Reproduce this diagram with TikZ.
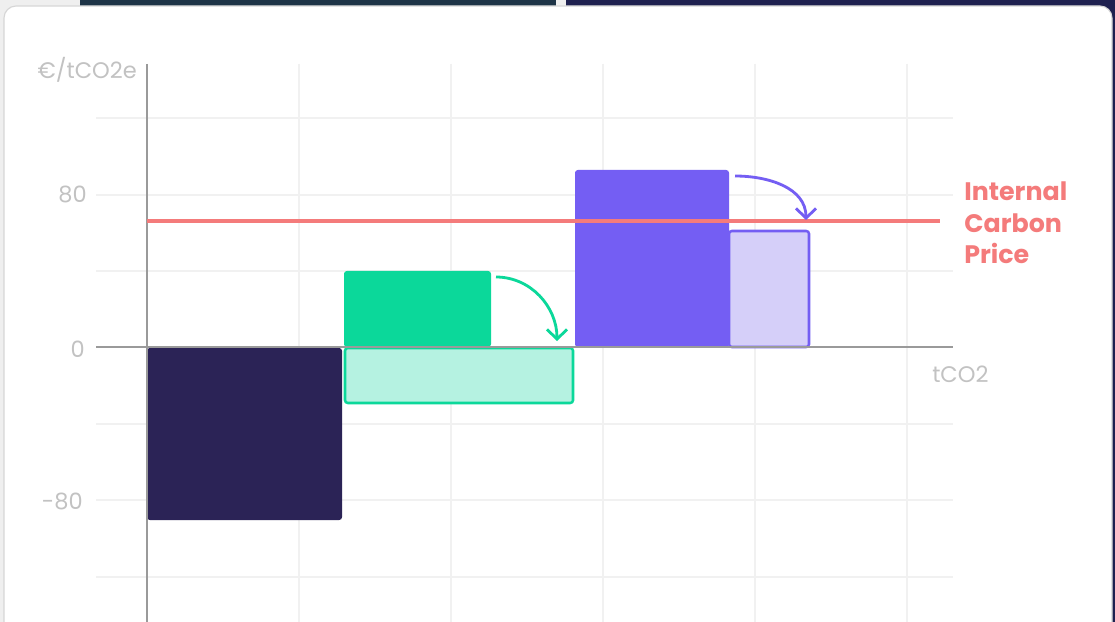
\documentclass[tikz,border=0pt]{standalone}
\usepackage{fontspec}
\setmainfont{Poppins}
\usepackage{tikz}
\usetikzlibrary{arrows.meta}
\pgfdeclarelayer{bg}
\pgfsetlayers{bg,main}

\definecolor{backgray}{HTML}{EFEFEF}
\definecolor{tealdark}{HTML}{1E3447}
\definecolor{navydark}{HTML}{1F2150}
\definecolor{cardedge}{HTML}{D6D6D6}
\definecolor{gridgray}{HTML}{F1F1F1}
\definecolor{axisgray}{HTML}{9A9A9A}
\definecolor{labelgray}{HTML}{C2C2C2}
\definecolor{navybar}{HTML}{2B2356}
\definecolor{mint}{HTML}{0BD89A}
\definecolor{lightmint}{HTML}{B5F2E1}
\definecolor{violet}{HTML}{745EF3}
\definecolor{lightviolet}{HTML}{D5CFF9}
\definecolor{pricered}{HTML}{F47B7B}

\tikzset{
  gridline/.style={draw=gridgray, line width=1.3pt},
  axisline/.style={draw=axisgray, line width=1.5pt},
  ticklabel/.style={text=labelgray, inner sep=0pt, font=\fontsize{16}{19}\selectfont},
  bar/.style={rounded corners=2pt},
  shift arrow/.style={line width=2pt, -{Straight Barb[length=2.4mm,width=5mm]}}
}

\begin{document}
\begin{tikzpicture}[x=0.025cm, y=-0.025cm]
        \useasboundingbox (0,0) rectangle (1115,622);
        \clip (0,0) rectangle (1115,622);

        \begin{pgfonlayer}{bg}
                \fill[backgray] (0,0) rectangle (1115,622);
                \fill[tealdark] (80,0) rectangle (556,12);
                \fill[navydark] (566,0) rectangle (1115,622);
                \filldraw[fill=white, draw=cardedge, line width=0.8pt, rounded corners=0.3cm] (4,6) rectangle (1112,680);
                \foreach \y in {118,195,271,424,500,577}
                        \draw[gridline] (96,\y) -- (953,\y);
                \foreach \x in {299,451,603,755,907}
                        \draw[gridline] (\x,64) -- (\x,622);
        \end{pgfonlayer}

        \fill[navybar, bar] (147,348) rectangle (342,520);
        \fill[mint, bar] (344,271) rectangle (491,347);
        \filldraw[fill=lightmint, draw=mint, line width=1.8pt, bar] (345,348) rectangle (573,403);
        \fill[violet, bar] (575,170) rectangle (729,347);
        \filldraw[fill=lightviolet, draw=violet, line width=1.8pt, bar] (729,231) rectangle (809,347);

        \draw[axisline] (96,347) -- (953,347);
        \draw[axisline] (147,64) -- (147,622);
        \draw[draw=pricered, line width=2.8pt] (147,221) -- (940,221);

        \node (unit) [ticklabel, anchor=base east] at (137,79) {€/tCO2e};
        \node (y80) [ticklabel, anchor=east] at (87,194) {80};
        \node (y0) [ticklabel, anchor=east] at (85,349) {0};
        \node (ym80) [ticklabel, anchor=east] at (83,501) {-80};
        \node (xunit) [ticklabel, anchor=west] at (932,374) {tCO2};
        \node (price) [anchor=west, inner sep=0pt, align=left, text=pricered, font=\bfseries\fontsize{18}{22.5}\selectfont] at (964,223) {Internal\\Carbon\\Price};

        \coordinate (g0) at (496,277);
        \coordinate (g1) at (557,341);
        \coordinate (p0) at (735,176);
        \coordinate (p1) at (806,220);
        \draw[shift arrow, mint] (g0) to[out=0, in=90] (g1);
        \draw[shift arrow, violet] (p0) to[out=0, in=90] (p1);
\end{tikzpicture}
\end{document}
